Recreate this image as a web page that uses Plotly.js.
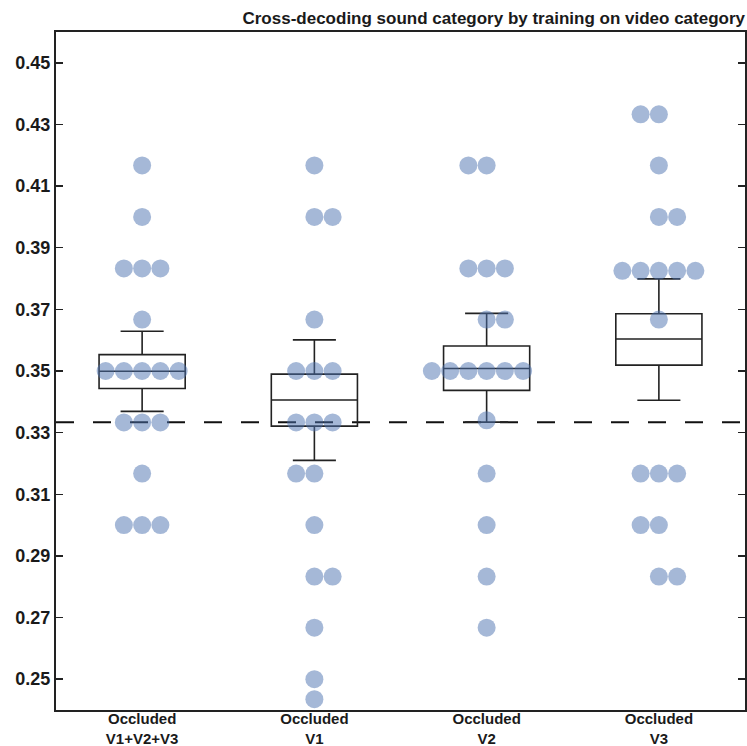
<!DOCTYPE html>
<html>
<head>
<meta charset="utf-8">
<script src="https://cdn.plot.ly/plotly-3.0.1.min.js"></script>
<style>html,body{margin:0;padding:0;background:#fff;}#chart{width:747px;height:746px;}</style>
</head>
<body>
<div id="chart"></div>
<script>
// ---- data ----
const categories = ['Occluded<br>V1+V2+V3', 'Occluded<br>V1', 'Occluded<br>V2', 'Occluded<br>V3'];
const accV1V2V3 = [0.4167, 0.40, 0.3833, 0.3833, 0.3833, 0.3667, 0.35, 0.35, 0.35, 0.35, 0.35,
                   0.3333, 0.3333, 0.3333, 0.3167, 0.30, 0.30, 0.30];
const accV1 = [0.4167, 0.40, 0.40, 0.3667, 0.35, 0.35, 0.35, 0.3333, 0.3333, 0.3333,
               0.3167, 0.3167, 0.30, 0.2833, 0.2833, 0.2667, 0.25, 0.2435];
const accV2 = [0.4167, 0.4167, 0.3833, 0.3833, 0.3833, 0.3667, 0.3667, 0.35, 0.35, 0.35, 0.35, 0.35, 0.35,
               0.334, 0.3167, 0.30, 0.2833, 0.2667];
const accV3 = [0.4333, 0.4333, 0.4167, 0.40, 0.40, 0.3825, 0.3825, 0.3825, 0.3825, 0.3825,
               0.3667, 0.3167, 0.3167, 0.3167, 0.30, 0.30, 0.2833, 0.2833];
// box statistics (as drawn)
const boxQ1     = [0.3443, 0.3321, 0.3437, 0.3519];
const boxMedian = [0.3499, 0.3406, 0.3508, 0.3604];
const boxQ3     = [0.3553, 0.3490, 0.3581, 0.3686];
const boxLower  = [0.3369, 0.3210, 0.3334, 0.3405];
const boxUpper  = [0.3629, 0.3601, 0.3687, 0.3799];
const chanceLevel = 1 / 3;
const yTicks = [0.25, 0.27, 0.29, 0.31, 0.33, 0.35, 0.37, 0.39, 0.41, 0.43, 0.45];
// tie-break side for swarm rows with an even number of points (top to bottom)
const evenSide = [[], [1, -1, 1], [-1, 1, -1], [-1, 1, -1, 1]];

// ---- swarm layout ----
const step = 0.106;
function swarm(vals, ci) {
  const groups = [];
  vals.forEach(v => {
    const g = groups.find(g => Math.abs(g.v - v) < 1e-6);
    if (g) g.n++; else groups.push({v: v, n: 1});
  });
  const xs = [], ys = [];
  let ei = 0;
  groups.forEach(g => {
    let start;
    if (g.n % 2 === 1) start = -(g.n - 1) / 2;
    else {
      const side = evenSide[ci][ei++] || 1;
      start = side < 0 ? -g.n / 2 : -(g.n / 2 - 1);
    }
    for (let k = 0; k < g.n; k++) { xs.push(ci + (start + k) * step); ys.push(g.v); }
  });
  return {x: xs, y: ys};
}

const allSeries = [accV1V2V3, accV1, accV2, accV3];
const xIdx = categories.map((c, i) => i);

const traces = [{
  type: 'box',
  x: xIdx,
  q1: boxQ1, median: boxMedian, q3: boxQ3,
  lowerfence: boxLower, upperfence: boxUpper,
  width: 0.5, whiskerwidth: 0.5,
  boxpoints: false,
  fillcolor: 'rgba(0,0,0,0)',
  line: {color: '#222', width: 1.6},
  hoverinfo: 'skip',
  showlegend: false
}];
allSeries.forEach((s, i) => {
  const p = swarm(s, i);
  traces.push({
    type: 'scatter', mode: 'markers',
    x: p.x, y: p.y,
    marker: {size: 18, color: 'rgba(76,114,176,0.5)', line: {width: 0}},
    showlegend: false, hoverinfo: 'y'
  });
});

const font = {family: 'Liberation Sans, Arial, sans-serif', color: '#1a1a1a', weight: 'bold'};

const layout = {
  width: 747, height: 746,
  margin: {l: 56, r: 2, t: 32, b: 36},
  paper_bgcolor: '#fff', plot_bgcolor: '#fff',
  showlegend: false,
  title: {
    text: 'Cross-decoding sound category by training on video category',
    x: 1, xref: 'paper', xanchor: 'right',
    y: 1 - 18 / 746, yref: 'container', yanchor: 'middle',
    font: Object.assign({}, font, {size: 17})
  },
  xaxis: {
    range: [-0.5, 3.5],
    tickvals: xIdx, ticktext: categories,
    ticks: '', showgrid: false, zeroline: false,
    showline: true, mirror: true, linecolor: '#222', linewidth: 2,
    tickfont: Object.assign({}, font, {size: 15}),
    ticklabelstandoff: -6
  },
  yaxis: {
    range: [0.24, 0.46],
    tickvals: yTicks, ticktext: yTicks.map(v => v.toFixed(2)),
    ticks: 'inside', ticklen: 7, tickwidth: 1.5, tickcolor: '#222',
    showgrid: false, zeroline: false,
    showline: true, mirror: 'ticks', linecolor: '#222', linewidth: 2,
    tickfont: Object.assign({}, font, {size: 18})
  },
  shapes: [{
    type: 'line', xref: 'paper', yref: 'y',
    x0: 0, x1: 1, y0: chanceLevel, y1: chanceLevel,
    line: {color: '#111', width: 2, dash: '18px,19px'},
    layer: 'below'
  }]
};

Plotly.newPlot('chart', traces, layout, {displayModeBar: false, staticPlot: true});
</script>
</body>
</html>
